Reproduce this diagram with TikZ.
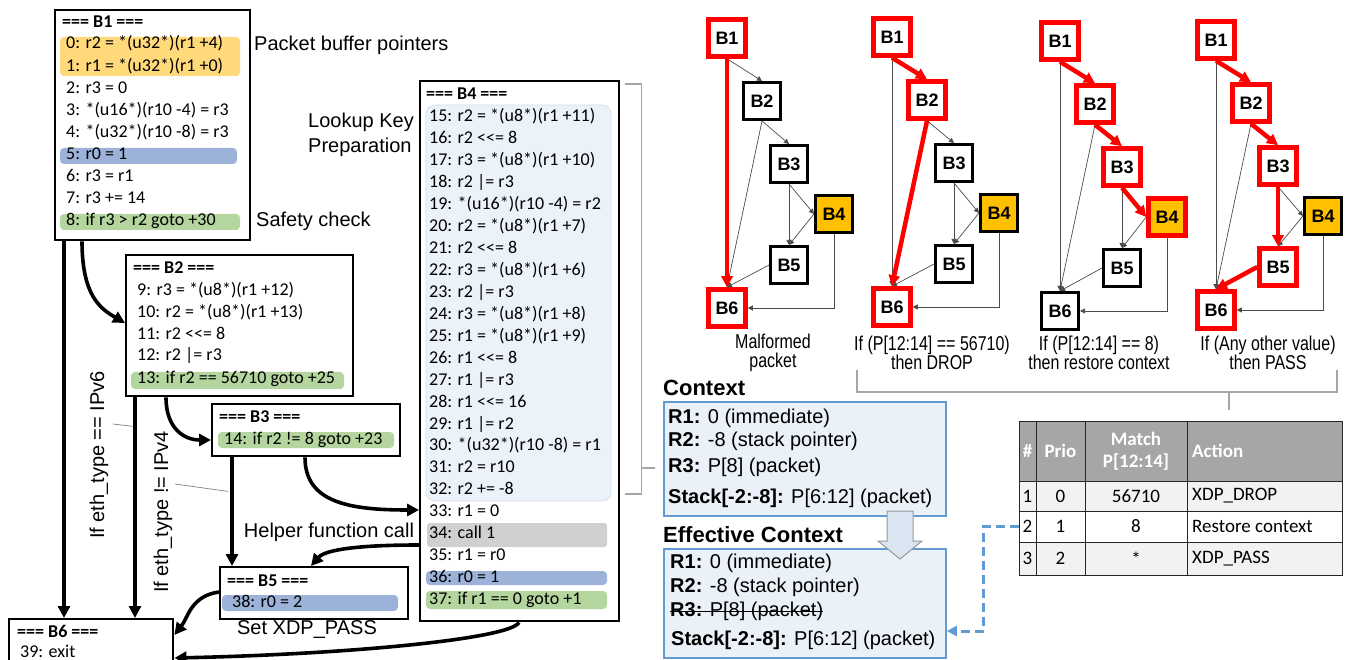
\documentclass[tikz,border=0pt]{standalone}
\usepackage{fontspec}
\setmainfont{Liberation Sans}
\newfontfamily\codefont{Carlito}
\newfontfamily\narrowfont[FakeStretch=0.8]{Liberation Sans}
\usetikzlibrary{arrows.meta,calc}

\definecolor{hlorange}{RGB}{255,217,122}
\definecolor{hlblue}{RGB}{157,178,216}
\definecolor{hlgreen}{RGB}{180,214,158}
\definecolor{hlgrey}{RGB}{208,208,208}
\definecolor{keybg}{RGB}{236,242,250}
\definecolor{keyline}{RGB}{214,224,238}
\definecolor{ctxfill}{RGB}{235,241,248}
\definecolor{ctxline}{RGB}{98,155,210}
\definecolor{bbred}{RGB}{255,0,0}
\definecolor{bborange}{RGB}{255,192,0}
\definecolor{bracketgray}{RGB}{166,166,166}
\definecolor{thead}{RGB}{166,166,166}
\definecolor{trow}{RGB}{242,242,242}
\definecolor{bigarrow}{RGB}{218,229,242}

\tikzset{
  codebox/.style={draw, line width=2.4pt, fill=white, anchor=north west, inner sep=0pt},
  code/.style={anchor=west, inner sep=0pt, text height=12pt, text depth=4pt,
    font=\codefont\fontsize{18}{20}\selectfont},
  codehead/.style={code, font=\codefont\bfseries\fontsize{18}{20}\selectfont},
  flow/.style={line width=3.6pt, -{Triangle[length=12pt,width=12pt]}},
  note/.style={inner sep=0pt, font=\fontsize{20}{25}\selectfont},
  leader/.style={draw=gray, line width=0.7pt},
  gblk/.style={draw=black, line width=3pt, fill=white, minimum width=37pt,
    minimum height=37pt, inner sep=0pt, font=\bfseries\fontsize{18}{20}\selectfont},
  hot/.style={draw=bbred, line width=4.5pt},
  gedge/.style={draw=black!70, line width=0.7pt, -{Triangle[length=5pt,width=5pt]}},
  hotedge/.style={draw=bbred, line width=4.5pt, -{Triangle[length=11pt,width=11pt]}},
  outcome/.style={align=center, inner sep=0pt, font=\narrowfont\fontsize{20}{19}\selectfont},
  brk/.style={draw=bracketgray, line width=1.5pt},
  ctxbox/.style={draw=ctxline, line width=1.8pt, fill=ctxfill, anchor=north west, inner sep=0pt},
  ctxtext/.style={anchor=west, inner sep=0pt, font=\fontsize{20}{22}\selectfont},
  ctxtitle/.style={anchor=west, inner sep=0pt, font=\bfseries\fontsize{22}{24}\selectfont},
  tcell/.style={inner sep=0pt, font=\codefont\fontsize{19}{22}\selectfont},
  thcell/.style={inner sep=0pt, text=white, font=\codefont\bfseries\fontsize{19}{22}\selectfont},
}

% one control-flow graph: prefix, x, y of B1, then styles of B1..B6
\newcommand\cfgpanel[9]{%
  \node[gblk,#4] (#1b1) at (#2,#3) {B1};
  \node[gblk,#5] (#1b2) at ($(#2,#3)+(35,63)$) {B2};
  \node[gblk,#6] (#1b3) at ($(#2,#3)+(62,126)$) {B3};
  \node[gblk,fill=bborange,#7] (#1b4) at ($(#2,#3)+(107,176)$) {B4};
  \node[gblk,#8] (#1b5) at ($(#2,#3)+(62,227)$) {B5};
  \node[gblk,#9] (#1b6) at ($(#2,#3)+(0,270)$) {B6};
}

\begin{document}
\begin{tikzpicture}[x=1pt,y=-1pt]
\useasboundingbox (0,0) rectangle (1350,660);

% ---------------- basic blocks ----------------
\node[codebox, minimum width=195pt, minimum height=230pt] (B1) at (54,9) {};
\node[codebox, minimum width=227pt, minimum height=141pt] (B2) at (125,254) {};
\node[codebox, minimum width=188pt, minimum height=52pt] (B3) at (211,403) {};
\node[codebox, minimum width=199pt, minimum height=540pt] (B4) at (419,80) {};
\node[codebox, minimum width=188pt, minimum height=52pt] (B5) at (219,566) {};
\node[codebox, minimum width=164pt, minimum height=62pt] (B6) at (8,618) {};

% highlights
\fill[hlorange, rounded corners=4pt] (60,37) rectangle (240,76);
\fill[hlblue, rounded corners=4pt] (60,148) rectangle (237,164);
\fill[hlgreen, rounded corners=4pt] (60,214) rectangle (240,230);
\fill[hlgreen, rounded corners=4pt] (131,372) rectangle (344,389);
\fill[hlgreen, rounded corners=4pt] (218,432) rectangle (394,448);
\fill[hlblue, rounded corners=4pt] (222,595) rectangle (398,611);
\filldraw[fill=keybg, draw=keyline, line width=0.8pt, rounded corners=9pt] (426,105) rectangle (611,501);
\fill[hlgrey, rounded corners=3pt] (427,523) rectangle (607,547);
\fill[hlblue, rounded corners=4pt] (426,571) rectangle (607,585);
\fill[hlgreen, rounded corners=4pt] (426,591) rectangle (607,609);

% B1
\node[codehead] (h1) at (62,24) {=== B1 ===};
\node[code] (i0) at (66,45) {0: r2 = *(u32*)(r1 +4)};
\node[code] (i1) at (66,68) {1: r1 = *(u32*)(r1 +0)};
\node[code] (i2) at (66,90) {2: r3 = 0};
\node[code] (i3) at (66,112) {3: *(u16*)(r10 -4) = r3};
\node[code] (i4) at (66,134) {4: *(u32*)(r10 -8) = r3};
\node[code] (i5) at (66,156) {5: r0 = 1};
\node[code] (i6) at (66,178) {6: r3 = r1};
\node[code] (i7) at (66,200) {7: r3 += 14};
\node[code] (i8) at (66,222) {8: if r3 > r2 goto +30};
% B2
\node[codehead] (h2) at (133,270) {=== B2 ===};
\node[code] (i9) at (137,292) {9: r3 = *(u8*)(r1 +12)};
\node[code] (i10) at (137,314) {10: r2 = *(u8*)(r1 +13)};
\node[code] (i11) at (137,336) {11: r2 <<= 8};
\node[code] (i12) at (137,357) {12: r2 |= r3};
\node[code] (i13) at (137,380) {13: if r2 == 56710 goto +25};
% B3
\node[codehead] (h3) at (219,418) {=== B3 ===};
\node[code] (i14) at (224,440) {14: if r2 != 8 goto +23};
% B4
\node[codehead] (h4) at (426,96) {=== B4 ===};
\foreach \t [count=\k from 0] in {
  15: r2 = *(u8*)(r1 +11), 16: r2 <<= 8, 17: r3 = *(u8*)(r1 +10), 18: r2 |= r3,
  19: *(u16*)(r10 -4) = r2, 20: r2 = *(u8*)(r1 +7), 21: r2 <<= 8,
  22: r3 = *(u8*)(r1 +6), 23: r2 |= r3, 24: r3 = *(u8*)(r1 +8),
  25: r1 = *(u8*)(r1 +9), 26: r1 <<= 8, 27: r1 |= r3, 28: r1 <<= 16,
  29: r1 |= r2, 30: *(u32*)(r10 -8) = r1, 31: r2 = r10, 32: r2 += -8,
  33: r1 = 0, 34: call 1, 35: r1 = r0, 36: r0 = 1, 37: if r1 == 0 goto +1}
  \node[code] (k\k) at (429,{118+21.93*\k}) {\t};
% B5
\node[codehead] (h5) at (227,582) {=== B5 ===};
\node[code] (i38) at (232,603) {38: r0 = 2};
% B6
\node[codehead] (h6) at (17,633) {=== B6 ===};
\node[code] (i39) at (20,653) {39: exit};

% ---------------- control-flow edges ----------------
\coordinate (b1s1) at ($(B1.south west)+(10,0)$);
\coordinate (b1s2) at ($(B1.south west)+(28,0)$);
\coordinate (b2s1) at ($(B2.south west)+(10,0)$);
\coordinate (b2s2) at ($(B2.south west)+(41,0)$);
\coordinate (b3s1) at ($(B3.south west)+(21,0)$);
\coordinate (b3s2) at ($(B3.south west)+(94,0)$);
\coordinate (b4w1) at ($(B4.north west)+(0,430)$);
\coordinate (b4w2) at ($(B4.north west)+(0,465)$);
\coordinate (b4s1) at ($(B4.south west)+(100,0)$);
\coordinate (b5w) at ($(B5.north west)+(0,26)$);

\draw[flow] (b1s1) -- (b1s1 |- B6.north);
\draw[flow] (b1s2) .. controls +(0,55) and +(-24,-14) .. ($(B2.north west)+(0,69)$);
\draw[flow] (b2s1) -- (b2s1 |- B6.north);
\draw[flow] (b2s2) .. controls +(0,32) and +(-26,0) .. ($(B3.north west)+(0,37)$);
\draw[flow] (b3s1) -- (b3s1 |- B5.north);
\draw[flow] (b3s2) .. controls +(0,45) and +(-70,0) .. (b4w1);
\draw[flow] (b4w2) .. controls +(-75,0) and +(12,-14) .. ($(B5.north west)+(92,0)$);
\draw[flow] (b5w) .. controls +(-28,4) and +(14,-18) .. ($(B6.north east)+(0,17)$);
\draw[flow] (b4s1) .. controls +(-8,16) and +(180,-4) .. ($(B6.north east)+(0,40)$);

% ---------------- annotations ----------------
\node[note, anchor=west] (pbp) at (254,45) {Packet buffer pointers};
\node[note, anchor=west] (sfc) at (256,221) {Safety check};
\node[note, anchor=west, align=left] (lkp) at (308,134.5) {Lookup Key\\Preparation};
\node[note, anchor=center] (hfc) at (329,532) {Helper function call};
\node[note, anchor=center] (sxp) at (307,630) {Set XDP\_PASS};
\node[note, rotate=90] (lab6) at (99,455) {If eth\_type == IPv6};
\node[note, rotate=90] (lab4) at (163,512) {If eth\_type != IPv4};
\draw[leader] ($(lab6.center)+(14,-31)$) -- ($(b2s1)+(-2,29)$);
\draw[leader] ($(lab4.center)+(12,-28)$) -- ($(b3s1)+(-4,34)$);

% bracket around the key preparation instructions
\draw[brk] ($(B4.north east)+(5,4)$) -- ++(16,0) -- ++(0,410) -- ++(-16,0);
\draw[brk] ($(B4.north east)+(21,388)$) -- ++(14,0);

% ---------------- control-flow graphs ----------------
\cfgpanel{m}{727}{38}{hot}{}{}{}{}{hot}
\cfgpanel{d}{892}{37}{hot}{hot}{}{}{}{hot}
\cfgpanel{r}{1060}{41}{hot}{hot}{hot}{hot}{}{}
\cfgpanel{p}{1216}{40}{hot}{hot}{hot}{}{hot}{hot}

% malformed packet
\draw[gedge] (mb1.south) -- (mb2.north);
\draw[gedge] (mb2.south) -- (mb3.north);
\draw[gedge] (mb2.south) -- (mb6.north);
\draw[gedge] (mb3.south) -- (mb4.west);
\draw[gedge] (mb3.south) -- (mb5.north);
\draw[gedge] (mb4.west) -- (mb5.north);
\draw[gedge] (mb5.west) -- (mb6.north);
\draw[gedge] (mb4.south) |- (mb6.east);
\draw[hotedge] (mb1.south) -- (mb6.north);
% drop
\draw[gedge] (db1.south) -- (db6.north);
\draw[gedge] (db2.south) -- (db3.north);
\draw[gedge] (db3.south) -- (db4.west);
\draw[gedge] (db3.south) -- (db5.north);
\draw[gedge] (db4.west) -- (db5.north);
\draw[gedge] (db5.west) -- (db6.north);
\draw[gedge] (db4.south) |- (db6.east);
\draw[hotedge] (db1.south) -- (db2.north);
\draw[hotedge] (db2.south) -- (db6.north);
% restore context
\draw[gedge] (rb1.south) -- (rb6.north);
\draw[gedge] (rb2.south) -- (rb6.north);
\draw[gedge] (rb3.south) -- (rb5.north);
\draw[gedge] (rb4.west) -- (rb5.north);
\draw[gedge] (rb5.west) -- (rb6.north);
\draw[gedge] (rb4.south) |- (rb6.east);
\draw[hotedge] (rb1.south) -- (rb2.north);
\draw[hotedge] (rb2.south) -- (rb3.north);
\draw[hotedge] (rb3.south) -- (rb4.west);
% pass
\draw[gedge] (pb1.south) -- (pb6.north);
\draw[gedge] (pb2.south) -- (pb6.north);
\draw[gedge] (pb3.south) -- (pb4.west);
\draw[gedge] (pb4.west) -- (pb5.north);
\draw[gedge] (pb4.south) |- (pb6.east);
\draw[hotedge] (pb1.south) -- (pb2.north);
\draw[hotedge] (pb2.south) -- (pb3.north);
\draw[hotedge] (pb3.south) -- (pb5.north);
\draw[hotedge] (pb5.west) -- (pb6.north);

\node[outcome] (o1) at (773,352.5) {Malformed\\packet};
\node[outcome] (o2) at (932,352.5) {If (P[12:14] == 56710)\\then DROP};
\node[outcome] (o3) at (1099,352.5) {If (P[12:14] == 8)\\then restore context};
\node[outcome] (o4) at (1268,352.5) {If (Any other value)\\then PASS};
\draw[brk] (857,370) -- (857,392) -- (1337,392) -- (1337,370);
\draw[brk] (1229,392) -- (1229,410);

% ---------------- context ----------------
\node[ctxtitle] (ct) at (663,388) {Context};
\node[ctxbox, minimum width=282pt, minimum height=114pt] (ctx) at (663,401) {};
\node[ctxtext] (c1) at (668,418) {\textbf{R1:} 0 (immediate)};
\node[ctxtext] (c2) at (668,441) {\textbf{R2:} -8 (stack pointer)};
\node[ctxtext] (c3) at (668,467) {\textbf{R3:} P[8] (packet)};
\node[ctxtext] (c4) at (668,498) {\textbf{Stack[-2:-8]:} P[6:12] (packet)};

\node[ctxtitle] (et) at (663,535) {Effective Context};
\node[ctxbox, minimum width=282pt, minimum height=109pt] (ectx) at (663,548) {};
\node[ctxtext] (e1) at (670,563) {\textbf{R1:} 0 (immediate)};
\node[ctxtext] (e2) at (670,587) {\textbf{R2:} -8 (stack pointer)};
\node[ctxtext] (e3) at (670,611) {\textbf{R3:} P[8] (packet)};
\draw[line width=1pt] (e3.west) -- (e3.east);
\node[ctxtext] (e4) at (671,640) {\textbf{Stack[-2:-8]:} P[6:12] (packet)};

% block arrow from context to effective context
\filldraw[fill=bigarrow, draw=gray!80, line width=1pt]
  (887,511) -- (913,511) -- (913,541) -- (922,541) -- (900,559) -- (878,541) -- (887,541) -- cycle;

% ---------------- lookup table ----------------
\fill[thead] (1019,421) rectangle (1342,481);
\fill[trow] (1019,481) rectangle (1342,511);
\fill[white] (1019,511) rectangle (1342,542);
\fill[trow] (1019,542) rectangle (1342,575);
\draw[black!85, line width=1pt] (1019,421) rectangle (1342,575)
  (1019,481) -- (1342,481) (1019,511) -- (1342,511) (1019,542) -- (1342,542)
  (1036,421) -- (1036,575) (1085,421) -- (1085,575) (1187,421) -- (1187,575);
\node[thcell] (th1) at (1027.5,451) {\#};
\node[thcell] (th2) at (1060.5,451) {Prio};
\node[thcell, align=center] (th3) at (1136,451) {Match\\P[12:14]};
\node[thcell, anchor=west] (th4) at (1192,451) {Action};
\node[tcell] (t1) at (1027.5,496) {1};
\node[tcell] (p1) at (1060.5,496) {0};
\node[tcell] (m1) at (1136,496) {56710};
\node[tcell, anchor=west] (a1) at (1192,496) {XDP\_DROP};
\node[tcell] (t2) at (1027.5,526.5) {2};
\node[tcell] (p2) at (1060.5,526.5) {1};
\node[tcell] (m2) at (1136,526.5) {8};
\node[tcell, anchor=west] (a2) at (1192,526.5) {Restore context};
\node[tcell] (t3) at (1027.5,558.5) {3};
\node[tcell] (p3) at (1060.5,558.5) {2};
\node[tcell] (m3) at (1136,558.5) {*};
\node[tcell, anchor=west] (a3) at (1192,558.5) {XDP\_PASS};

% restore-context rule points back at the effective context
\draw[ctxline, line width=3pt, dash pattern=on 9pt off 5pt, -{Triangle[length=10pt,width=10pt]}]
  (t2.west -| 1019,0) -| ($(ectx.north east)+(37,83)$) -- ($(ectx.north east)+(0,83)$);
\end{tikzpicture}
\end{document}
